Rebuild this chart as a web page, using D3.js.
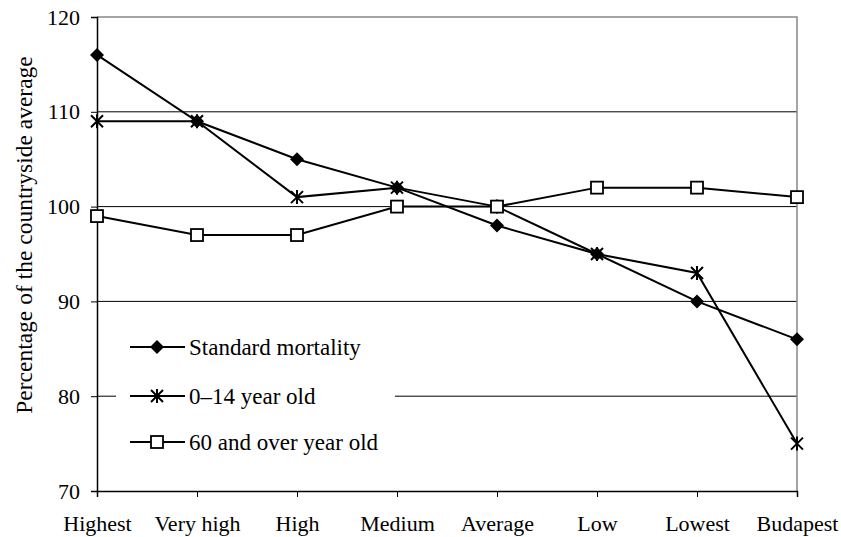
<!DOCTYPE html>
<html>
<head>
<meta charset="utf-8">
<script src="https://cdn.jsdelivr.net/npm/d3@7"></script>
<style>
  body { margin: 0; background: #fff; }
  svg text { font-family: 'Liberation Serif', 'DejaVu Serif', serif !important; fill: #000; }
</style>
</head>
<body>
<div id="chart"></div>
<script>
const categories = ["Highest", "Very high", "High", "Medium", "Average", "Low", "Lowest", "Budapest"];
const standardMortality = [116, 109, 105, 102, 98, 95, 90, 86];
const youngAge = [109, 109, 101, 102, 100, 95, 93, 75];
const oldAge = [99, 97, 97, 100, 100, 102, 102, 101];
const yTicks = [70, 80, 90, 100, 110, 120];

const width = 841, height = 537;
const margin = {top: 17, right: 44, bottom: 46, left: 97};

const svg = d3.select("#chart").append("svg")
  .attr("width", width)
  .attr("height", height);

const x = d3.scalePoint()
  .domain(categories)
  .range([margin.left, width - margin.right]);

const y = d3.scaleLinear()
  .domain([70, 120])
  .range([height - margin.bottom, margin.top]);

// gridlines
svg.append("g")
  .selectAll("line")
  .data(yTicks.filter(d => d > 70 && d < 120))
  .enter().append("line")
  .attr("x1", margin.left).attr("x2", width - margin.right)
  .attr("y1", d => y(d)).attr("y2", d => y(d))
  .attr("stroke", "#000").attr("stroke-width", 1);

// grey frame top and right
svg.append("path")
  .attr("d", `M${margin.left},${margin.top}H${width - margin.right}V${height - margin.bottom}`)
  .attr("fill", "none").attr("stroke", "#888").attr("stroke-width", 1.5);

// axes
const yAxis = svg.append("g")
  .attr("transform", `translate(${margin.left},0)`)
  .call(d3.axisLeft(y).tickValues(yTicks).tickSize(6).tickPadding(11));
const xAxis = svg.append("g")
  .attr("transform", `translate(0,${height - margin.bottom})`)
  .call(d3.axisBottom(x).tickSize(6).tickPadding(18));

[yAxis, xAxis].forEach(a => {
  a.attr("font-family", null).attr("font-size", 22);
  a.select(".domain").attr("stroke", "#000").attr("stroke-width", 1.5);
  a.selectAll(".tick line").attr("stroke", "#000").attr("stroke-width", 1);
});

svg.append("text")
  .attr("transform", "translate(32,235) rotate(-90)")
  .attr("text-anchor", "middle")
  .attr("font-size", 23.5)
  .text("Percentage of the countryside average");

// markers
function drawMarker(g, type, cx, cy) {
  if (type === "diamond") {
    g.append("path")
      .attr("d", `M${cx},${cy - 7}L${cx + 7},${cy}L${cx},${cy + 7}L${cx - 7},${cy}Z`)
      .attr("fill", "#000");
  } else if (type === "star") {
    const s = 6;
    g.append("path")
      .attr("d", `M${cx - s},${cy - s}L${cx + s},${cy + s}M${cx - s},${cy + s}L${cx + s},${cy - s}M${cx},${cy - 7}V${cy + 7}`)
      .attr("stroke", "#000").attr("stroke-width", 2).attr("fill", "none");
  } else {
    g.append("rect")
      .attr("x", cx - 6).attr("y", cy - 6).attr("width", 12).attr("height", 12)
      .attr("fill", "#fff").attr("stroke", "#000").attr("stroke-width", 1.8);
  }
}

const series = [
  {name: "Standard mortality", values: standardMortality, marker: "diamond"},
  {name: "0\u201314 year old", values: youngAge, marker: "star"},
  {name: "60 and over year old", values: oldAge, marker: "square"}
];

const line = d3.line()
  .x((d, i) => x(categories[i]))
  .y(d => y(d));

series.forEach(s => {
  svg.append("path")
    .datum(s.values)
    .attr("d", line)
    .attr("fill", "none")
    .attr("stroke", "#000")
    .attr("stroke-width", 2);
});
series.forEach(s => {
  const g = svg.append("g");
  s.values.forEach((v, i) => drawMarker(g, s.marker, x(categories[i]), y(v)));
});

// legend with white background covering the gridline
const legend = svg.append("g");
legend.append("rect")
  .attr("x", 116).attr("y", 326).attr("width", 279).attr("height", 136)
  .attr("fill", "#fff");

const legendY = [347, 396, 442];
series.forEach((s, i) => {
  const ly = legendY[i];
  legend.append("line")
    .attr("x1", 130).attr("x2", 185).attr("y1", ly).attr("y2", ly)
    .attr("stroke", "#000").attr("stroke-width", 2);
  drawMarker(legend, s.marker, 157, ly);
  legend.append("text")
    .attr("x", 189).attr("y", ly + 8)
    .attr("font-size", 23)
    .text(s.name);
});
</script>
</body>
</html>
